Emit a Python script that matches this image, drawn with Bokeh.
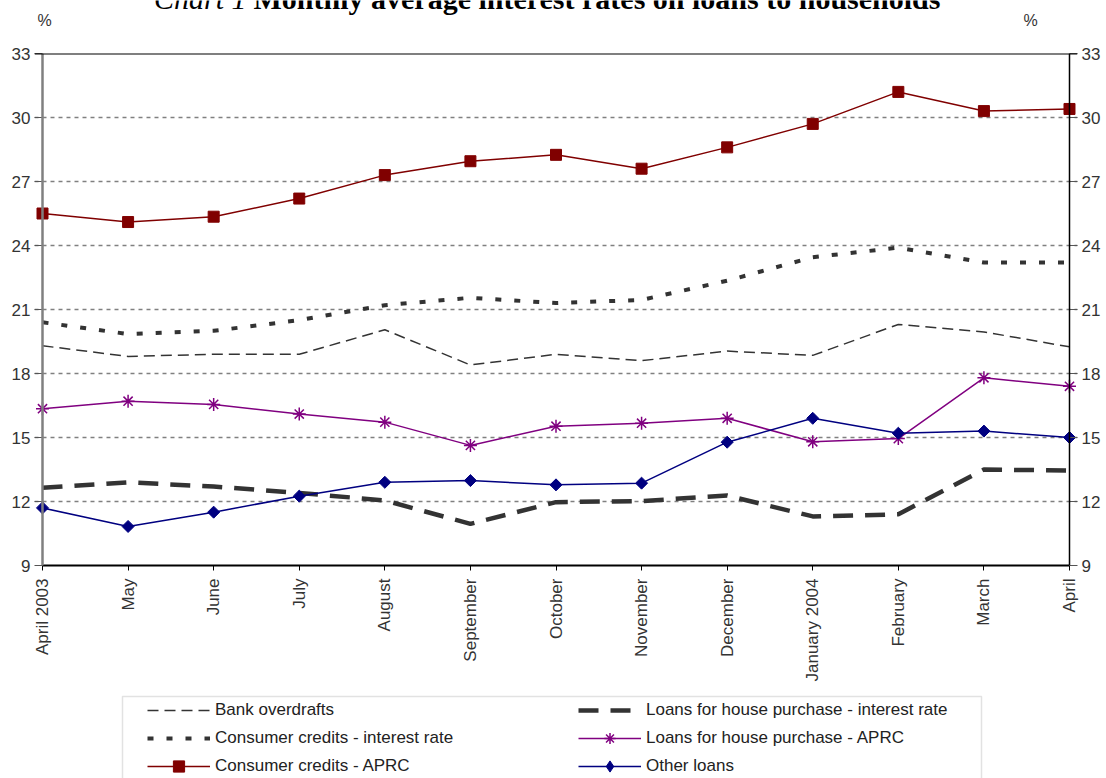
import math
from bokeh.plotting import figure
from bokeh.layouts import column
from bokeh.models import (Range1d, FixedTicker, LinearAxis, Legend, LegendItem,
                          Span, Label, BoxAnnotation)
from bokeh.embed import file_html
from bokeh.resources import INLINE

months = ["April 2003", "May", "June", "July", "August", "September", "October",
          "November", "December", "January 2004", "February", "March", "April"]
y_ticks = [9, 12, 15, 18, 21, 24, 27, 30, 33]

bank_overdrafts = [19.3, 18.8, 18.9, 18.9, 20.05, 18.4, 18.9, 18.6, 19.05, 18.85, 20.3, 19.95, 19.25]
consumer_rate = [20.4, 19.85, 20.0, 20.5, 21.2, 21.55, 21.3, 21.45, 22.35, 23.45, 23.9, 23.2, 23.2]
consumer_aprc = [25.5, 25.1, 25.35, 26.2, 27.3, 27.95, 28.25, 27.6, 28.6, 29.7, 31.2, 30.3, 30.4]
house_rate = [12.65, 12.9, 12.7, 12.4, 12.05, 10.95, 11.97, 12.02, 12.28, 11.3, 11.4, 13.5, 13.45]
house_aprc = [16.35, 16.7, 16.55, 16.1, 15.72, 14.63, 15.53, 15.67, 15.9, 14.8, 14.95, 17.8, 17.4]
other_loans = [11.7, 10.83, 11.5, 12.25, 12.9, 12.98, 12.78, 12.86, 14.78, 15.9, 15.2, 15.3, 15.0]

series_labels = ["Bank overdrafts", "Consumer credits - interest rate", "Consumer credits - APRC",
                 "Loans for house purchase - interest rate", "Loans for house purchase - APRC",
                 "Other loans"]
title_italic = "Chart 1"
title_bold = "Monthly average interest rates on loans to households"
unit_label = "%"

x = list(range(len(months)))
pad = 0.0935
FONT = "Liberation Sans"
FS = "17px"
DARK = "#333333"
W = 1106
BL, BR = 34, 29          # side borders shared by all three stacked figures
HEAD_H, MAIN_H, LEG_H = 30, 664, 84


def bare(fig):
    fig.axis.visible = False
    fig.grid.visible = False
    fig.outline_line_color = None
    fig.background_fill_color = "white"
    fig.border_fill_color = "white"


# ---------- header strip (title and unit labels), pixel-like coordinates ----------
hd = figure(width=W, height=HEAD_H, x_range=Range1d(BL, W - BR), y_range=Range1d(HEAD_H, 0),
            output_backend="svg", toolbar_location=None,
            min_border_left=BL, min_border_right=BR, min_border_top=0, min_border_bottom=0)
bare(hd)
hd.add_layout(Label(x=246, y=-2, text=title_italic,
                    text_font="Liberation Serif", text_font_style="italic",
                    text_font_size="30px", text_color="black",
                    text_align="right", text_baseline="alphabetic"))
hd.add_layout(Label(x=253, y=-2, text=title_bold,
                    text_font="Liberation Serif", text_font_style="bold",
                    text_font_size="30px", text_color="black",
                    text_align="left", text_baseline="alphabetic"))
for ux in (44, 1030):
    hd.add_layout(Label(x=ux, y=20, text=unit_label, text_font=FONT, text_font_size="16px",
                        text_color="#333333", text_align="center", text_baseline="middle"))

# ---------- main chart ----------
p = figure(width=W, height=MAIN_H,
           x_range=Range1d(-pad, len(months) - 1 + pad),
           y_range=Range1d(y_ticks[0], y_ticks[-1]),
           output_backend="svg", toolbar_location=None,
           min_border_left=BL, min_border_right=BR,
           min_border_top=53 - HEAD_H, min_border_bottom=129)
p.outline_line_color = None
p.background_fill_color = "white"
p.border_fill_color = "white"

xa = p.xaxis[0]
xa.ticker = FixedTicker(ticks=x)
xa.major_label_overrides = {i: m for i, m in enumerate(months)}
xa.major_label_orientation = math.pi / 2
xa.bounds = (0, len(months) - 1)
xa.axis_line_color = "black"
xa.axis_line_width = 2
xa.major_tick_out = 5
xa.major_tick_in = 0
xa.major_tick_line_color = "black"
xa.minor_tick_line_color = None
xa.major_label_standoff = 8
xa.major_label_text_font = FONT
xa.major_label_text_font_size = FS
xa.major_label_text_color = "#333333"


def style_y(ax):
    ax.ticker = FixedTicker(ticks=y_ticks)
    ax.axis_line_color = None
    ax.major_tick_in = 8
    ax.major_tick_out = 0
    ax.major_tick_line_color = "#555555"
    ax.minor_tick_line_color = None
    ax.major_label_standoff = 4
    ax.major_label_text_font = FONT
    ax.major_label_text_font_size = FS
    ax.major_label_text_color = "#333333"


style_y(p.yaxis[0])
ra = LinearAxis()
style_y(ra)
p.add_layout(ra, "right")

p.xgrid.visible = False
p.ygrid.ticker = FixedTicker(ticks=y_ticks)
p.ygrid.grid_line_color = "#808080"
p.ygrid.grid_line_dash = "4 4"
p.ygrid.grid_line_width = 1.5

p.add_layout(Span(location=0, dimension="height", line_color="#808080", line_width=2.5))
p.add_layout(Span(location=len(months) - 1, dimension="height", line_color="black", line_width=1.5))
p.add_layout(Span(location=y_ticks[-1], dimension="width", line_color="black", line_width=2))

styles = [
    dict(line=dict(line_color=DARK, line_width=1.5, line_dash="11 6"), marker=None),
    dict(line=dict(line_color=DARK, line_width=4, line_dash="6 13"), marker=None),
    dict(line=dict(line_color="#800000", line_width=1.5),
         marker=dict(marker="square", size=11, fill_color="#800000", line_color="#800000")),
    dict(line=dict(line_color=DARK, line_width=4.5, line_dash="20 12"), marker=None),
    dict(line=dict(line_color="#800080", line_width=1.5),
         marker=dict(marker="asterisk", size=13, line_color="#800080", line_width=1.5)),
    dict(line=dict(line_color="#000080", line_width=1.5),
         marker=dict(marker="square", angle=math.pi / 4, size=8.5,
                     fill_color="#000080", line_color="#000080")),
]
series = [bank_overdrafts, consumer_rate, consumer_aprc, house_rate, house_aprc, other_loans]
for i in [0, 1, 3, 2, 4, 5]:
    st = styles[i]
    p.line(x, series[i], **st["line"])
    if st["marker"]:
        p.scatter(x, series[i], **st["marker"])

# legend glyphs ignore marker rotation, so the legend uses a diamond marker
legend_markers = [None, None, styles[2]["marker"], None, styles[4]["marker"],
                  dict(marker="diamond", size=14, fill_color="#000080", line_color="#000080")]

# ---------- legend strip, pixel-like coordinates (y grows downward) ----------
top0 = HEAD_H + MAIN_H
lf = figure(width=W, height=LEG_H, x_range=Range1d(BL, W - BR),
            y_range=Range1d(top0 + LEG_H, top0),
            output_backend="svg", toolbar_location=None,
            min_border_left=BL, min_border_right=BR, min_border_top=0, min_border_bottom=0)
bare(lf)
lf.add_layout(BoxAnnotation(left=122, right=981, top=696, bottom=top0 + LEG_H + 20,
                            fill_color=None, fill_alpha=0,
                            line_color="#a0a0a0", line_width=1.5))

nan = float("nan")
items = []
for i, st in enumerate(styles):
    rs = [lf.line([nan], [nan], **st["line"])]
    if legend_markers[i]:
        rs.append(lf.scatter([nan], [nan], **legend_markers[i]))
    items.append(LegendItem(label=series_labels[i], renderers=rs))


def make_legend(its, vx):
    lg = Legend(items=its, location=(vx, -2), orientation="vertical")
    lg.border_line_color = None
    lg.background_fill_alpha = 0
    lg.padding = 0
    lg.margin = 0
    lg.spacing = 0
    lg.glyph_width = 63
    lg.glyph_height = 28
    lg.label_height = 20
    lg.label_standoff = 5
    lg.label_text_font = FONT
    lg.label_text_font_size = FS
    lg.label_text_color = "#222222"
    return lg


lf.add_layout(make_legend(items[:3], 147 - BL), "center")
lf.add_layout(make_legend(items[3:], 578 - BL), "center")

layout = column(hd, p, lf, spacing=0)
open("out.html", "w").write(file_html(layout, INLINE))
